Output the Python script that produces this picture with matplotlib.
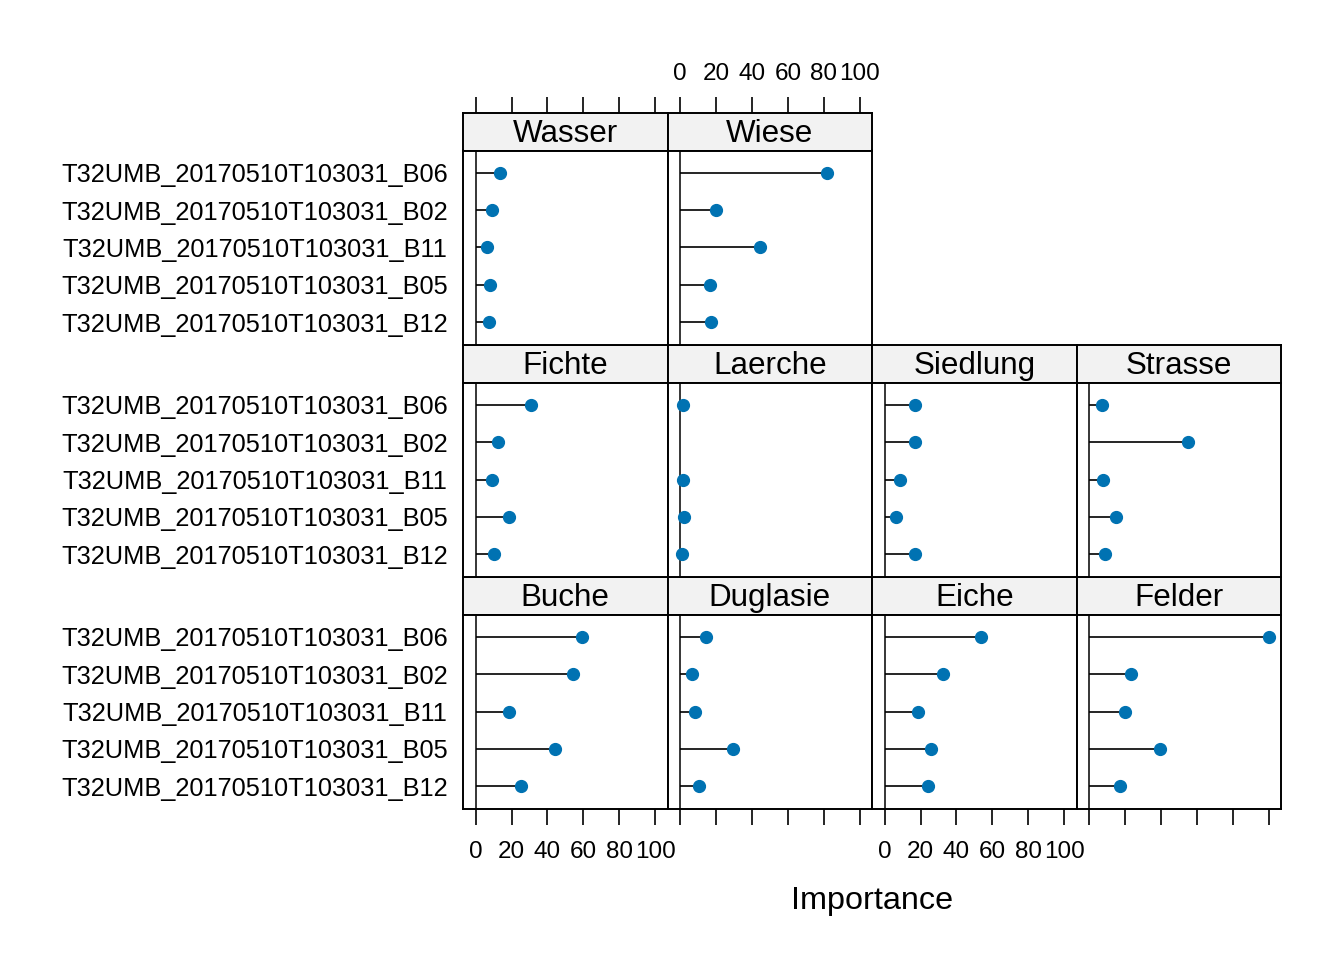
import numpy as np
import matplotlib
matplotlib.use("Agg")
import matplotlib.pyplot as plt

plt.rcParams['font.family'] = ['Liberation Sans', 'DejaVu Sans']

# ---- data ----
variables = ["T32UMB_20170510T103031_B12", "T32UMB_20170510T103031_B05",
             "T32UMB_20170510T103031_B11", "T32UMB_20170510T103031_B02",
             "T32UMB_20170510T103031_B06"]
classes = ["Buche", "Duglasie", "Eiche", "Felder",
           "Fichte", "Laerche", "Siedlung", "Strasse",
           "Wasser", "Wiese"]
# values ordered as variables (B12, B05, B11, B02, B06)
buche    = [25.2, 44.3, 18.7, 54.3, 59.1]
duglasie = [10.7, 29.4, 8.1, 6.7, 14.4]
eiche    = [24.1, 25.8, 18.7, 32.4, 53.7]
felder   = [17.2, 39.4, 20.0, 23.1, 100.0]
fichte   = [10.0, 18.5, 9.4, 12.2, 30.6]
laerche  = [0.9, 2.0, 1.5, np.nan, 1.5]
siedlung = [16.7, 6.3, 8.7, 16.7, 16.7]
strasse  = [9.1, 15.0, 7.8, 55.0, 7.2]
wasser   = [7.2, 8.3, 6.1, 9.4, 13.7]
wiese    = [17.4, 16.8, 44.6, 20.2, 82.0]
values = [buche, duglasie, eiche, felder, fichte, laerche,
          siedlung, strasse, wasser, wiese]
xticks = [0, 20, 40, 60, 80, 100]

W, H = 1344, 960
fig = plt.figure(figsize=(W / 100, H / 100), dpi=100)

col_edges = [463, 667.5, 872, 1076.5, 1281]
row_top = [577, 345, 113]   # row index 0 = bottom row (lattice order)
strip_h = 37.5
panel_h = 194
xlim = (-7.0, 106.8)
dot_color = "#0072B2"
lw_border = 1.4
tick_len = 11.5


def fig_rect(x0, y0_top, w, h):
    return [x0 / W, 1 - (y0_top + h) / H, w / W, h / H]


for i, (cls, vals) in enumerate(zip(classes, values)):
    r = i // 4
    c = i % 4
    x0 = col_edges[c]
    w = col_edges[c + 1] - col_edges[c]
    top = row_top[r]
    # strip
    sax = fig.add_axes(fig_rect(x0, top, w, strip_h))
    sax.set_facecolor("#F2F2F2")
    sax.set_xlim(*xlim)
    sax.set_ylim(0, 1)
    sax.set_yticks([])
    sax.text(0.5, 0.45, cls, transform=sax.transAxes, ha="center",
             va="center", fontsize=22.6)
    for s in sax.spines.values():
        s.set_linewidth(lw_border)
    # panel
    ax = fig.add_axes(fig_rect(x0, top + strip_h, w, panel_h))
    ax.set_xlim(*xlim)
    ax.set_ylim(0.4, 5.6)
    for s in ax.spines.values():
        s.set_linewidth(lw_border)
    ypos = np.arange(1, len(variables) + 1)
    v = np.array(vals, dtype=float)
    ax.axvline(0, color="black", lw=1.1, zorder=1)
    ok = ~np.isnan(v)
    ax.hlines(ypos[ok], 0, v[ok], color="black", lw=1.2, zorder=2)
    ax.plot(v[ok], ypos[ok], "o", color=dot_color, markersize=8.5, zorder=3)
    if c == 0:
        ax.set_yticks(ypos)
        ax.set_yticklabels(variables, fontsize=18.3)
        ax.tick_params(axis="y", length=0, pad=11)
    else:
        ax.set_yticks([])
    # x axis
    ax.set_xticks([])
    sax.set_xticks([])
    if r == 0:
        ax.set_xticks(xticks)
        ax.tick_params(axis="x", direction="out", length=tick_len, width=1.2,
                       pad=12, labelsize=17.5, bottom=True,
                       labelbottom=(c % 2 == 0))
    if r == 2:
        sax.set_xticks(xticks)
        sax.tick_params(axis="x", direction="out", length=tick_len, width=1.2,
                        pad=8.5, labelsize=17.5, top=True, bottom=False,
                        labeltop=(c % 2 == 1), labelbottom=False)

fig.text(872 / W, 1 - 901 / H, "Importance", ha="center", va="center",
         fontsize=23.3)

fig.savefig("out.png", dpi=100)
